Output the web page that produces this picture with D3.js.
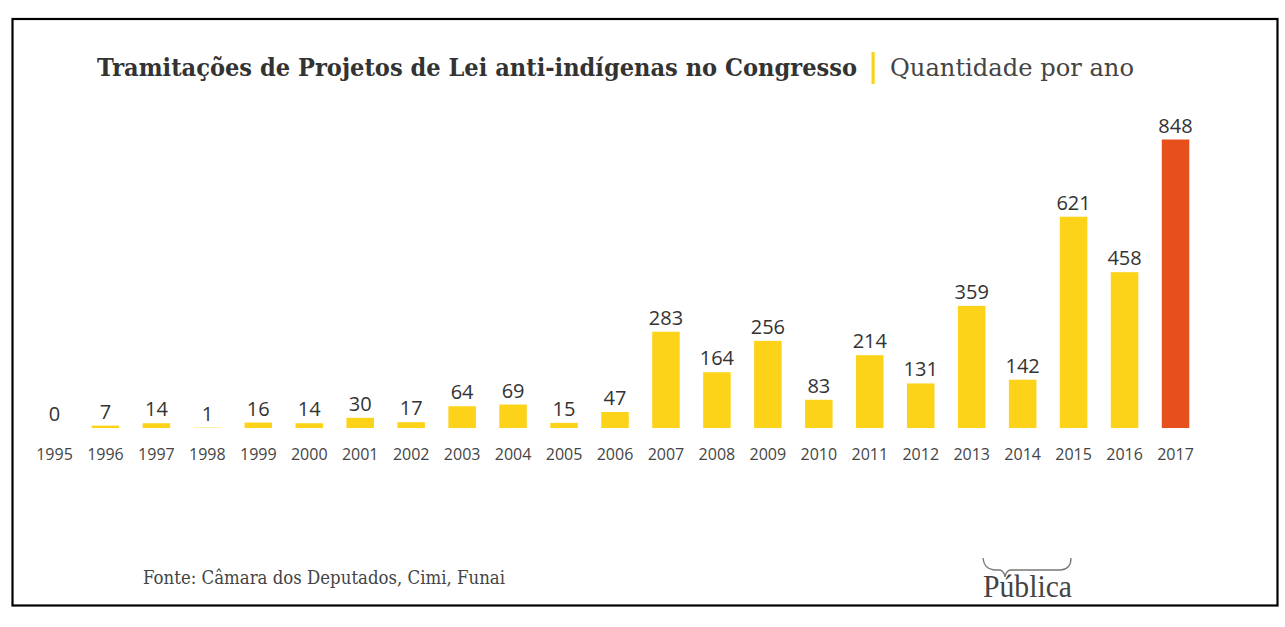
<!DOCTYPE html>
<html>
	<head>
		<meta charset="UTF-8">
		<title>Tramitações de Projetos de Lei anti-indígenas</title>
		<script type="text/javascript" src="https://cdn.jsdelivr.net/npm/d3@7"></script>
		<style>
			body { margin: 0; background: #fff; }
		</style>
	</head>
	<body>
		<script>
			//data
			var years = ["1995", "1996", "1997", "1998", "1999", "2000", "2001", "2002", "2003", "2004", "2005", "2006",
				"2007", "2008", "2009", "2010", "2011", "2012", "2013", "2014", "2015", "2016", "2017"];
			var quantidade = [0, 7, 14, 1, 16, 14, 30, 17, 64, 69, 15, 47,
				283, 164, 256, 83, 214, 131, 359, 142, 621, 458, 848];
			var highlightYear = "2017";

			var titleText = "Tramitações de Projetos de Lei anti-indígenas no Congresso";
			var subtitleText = "Quantidade por ano";
			var sourceText = "Fonte: Câmara dos Deputados, Cimi, Funai";
			var logoText = "Pública";

			var w = 1285;
			var h = 627;

			var yellow = "#fcd319";
			var orange = "#e74f1c";

			var data = years.map(function(y, i) {
				return {year: y, value: quantidade[i]};
			});

			var svg = d3.select("body")
				.append("svg")
				.attr("width", w)
				.attr("height", h);

			//frame
			svg.append("rect")
				.attr("x", 12.5)
				.attr("y", 19)
				.attr("width", 1265)
				.attr("height", 586.5)
				.attr("fill", "#fff")
				.attr("stroke", "#000")
				.attr("stroke-width", 2.2);

			//scales
			var xScale = d3.scaleBand()
				.domain(years)
				.range([29, 1201])
				.paddingInner(0.46)
				.paddingOuter(0.23);

			var yScale = d3.scaleLinear()
				.domain([0, d3.max(quantidade)])
				.range([428, 139.5]);

			//bars
			svg.selectAll("rect.bar")
				.data(data)
				.enter()
				.append("rect")
				.attr("class", "bar")
				.attr("x", function(d) { return xScale(d.year); })
				.attr("y", function(d) { return yScale(d.value); })
				.attr("width", xScale.bandwidth())
				.attr("height", function(d) { return yScale(0) - yScale(d.value); })
				.attr("fill", function(d) { return d.year == highlightYear ? orange : yellow; });

			//value labels
			svg.selectAll("text.value")
				.data(data)
				.enter()
				.append("text")
				.attr("class", "value")
				.attr("x", function(d) { return xScale(d.year) + xScale.bandwidth() / 2; })
				.attr("y", function(d) { return yScale(d.value) - 7; })
				.attr("text-anchor", "middle")
				.attr("font-family", "'Open Sans', sans-serif")
				.attr("font-size", "20px")
				.attr("fill", "#333")
				.text(function(d) { return d.value; });

			//x axis, only the labels
			var xAxis = d3.axisBottom(xScale)
				.tickSize(0)
				.tickPadding(0);

			var gx = svg.append("g")
				.attr("transform", "translate(0,449)")
				.call(xAxis);
			gx.select(".domain").remove();
			gx.selectAll("text")
				.attr("dy", "0.71em")
				.attr("font-family", "'Open Sans', sans-serif")
				.attr("font-size", "16px")
				.attr("fill", "#444");

			//title
			svg.append("text")
				.attr("x", 97)
				.attr("y", 76)
				.attr("font-family", "'DejaVu Serif', serif")
				.attr("font-weight", "bold")
				.attr("font-size", "23.5px")
				.attr("fill", "#333")
				.attr("textLength", 760)
				.attr("lengthAdjust", "spacingAndGlyphs")
				.text(titleText);

			svg.append("rect")
				.attr("x", 871.5)
				.attr("y", 52)
				.attr("width", 3.2)
				.attr("height", 32)
				.attr("fill", yellow);

			svg.append("text")
				.attr("x", 890)
				.attr("y", 76)
				.attr("font-family", "'DejaVu Serif', serif")
				.attr("font-size", "23.5px")
				.attr("fill", "#444")
				.attr("textLength", 244)
				.attr("lengthAdjust", "spacingAndGlyphs")
				.text(subtitleText);

			//source
			svg.append("text")
				.attr("x", 143)
				.attr("y", 584)
				.attr("font-family", "'DejaVu Serif', serif")
				.attr("font-size", "18px")
				.attr("fill", "#444")
				.attr("textLength", 362)
				.attr("lengthAdjust", "spacingAndGlyphs")
				.text(sourceText);

			//logo
			svg.append("path")
				.attr("d", "M983,558 Q984,569 994,570 L1000,570 Q1004,571 1005,577 Q1006,571 1010,570 L1061,570 Q1071,569 1071,558")
				.attr("fill", "none")
				.attr("stroke", "#777")
				.attr("stroke-width", 1.3);

			svg.append("text")
				.attr("x", 983)
				.attr("y", 597)
				.attr("font-family", "'Liberation Serif', 'DejaVu Serif', serif")
				.attr("font-size", "31px")
				.attr("fill", "#444")
				.attr("textLength", 89)
				.attr("lengthAdjust", "spacingAndGlyphs")
				.text(logoText);
		</script>
	</body>
</html>
